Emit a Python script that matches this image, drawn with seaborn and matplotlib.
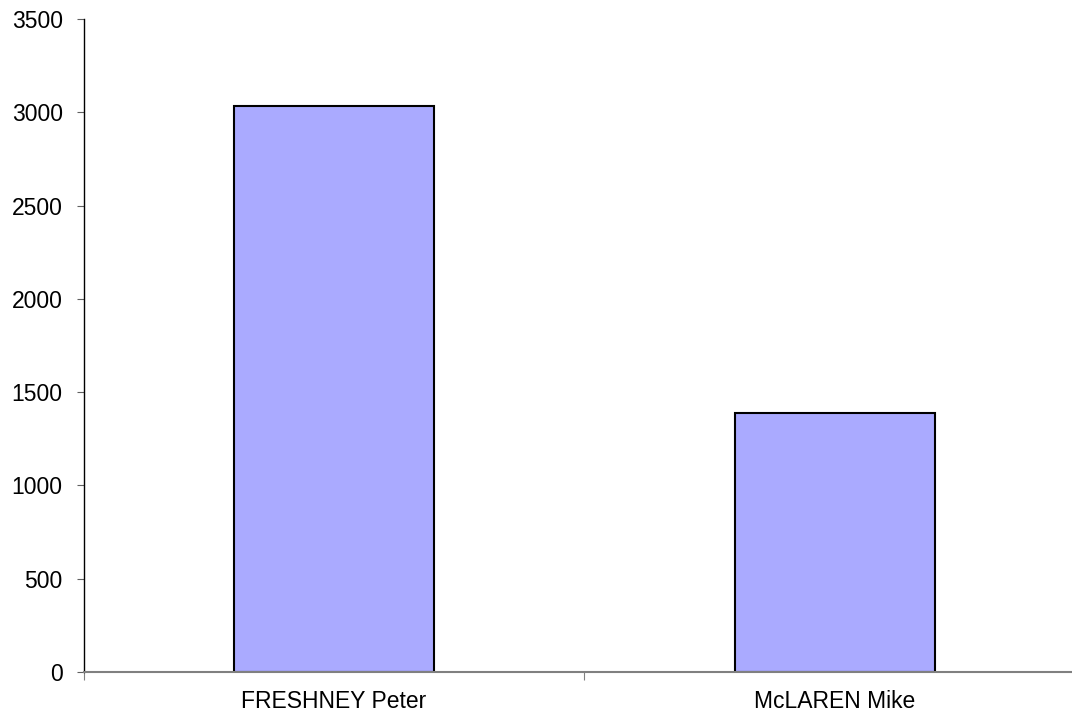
import matplotlib
matplotlib.use('Agg')
import matplotlib.pyplot as plt
import seaborn as sns
import pandas as pd

names = ['FRESHNEY Peter', 'McLAREN Mike']
values = [3035, 1387]
yticks = [0, 500, 1000, 1500, 2000, 2500, 3000, 3500]

sns.set_style('white')
plt.rcParams['font.family'] = ['Liberation Sans', 'DejaVu Sans']

df = pd.DataFrame({'name': names, 'value': values})

W, H = 1072, 715
fig = plt.figure(figsize=(W / 100, H / 100), dpi=100)
ax = fig.add_axes([83.5 / W, (H - 672) / H, (1085.5 - 83.5) / W, (672 - 19) / H])

sns.barplot(data=df, x='name', y='value', color='#AAAAFF', saturation=1,
            edgecolor='black', linewidth=1.5, width=0.4, ax=ax)

ax.set_xlim(-0.5, 1.5)
ax.set_ylim(0, 3500)
ax.set_yticks(yticks)
ax.set_yticklabels([str(v) for v in yticks], fontsize=16.5, color='black')
ax.set_xlabel('')
ax.set_ylabel('')

# category boundary ticks (major), labels on minor ticks at centres
ax.set_xticks([-0.5, 0.5, 1.5])
ax.set_xticklabels(['', '', ''])
ax.set_xticks([0, 1], minor=True)
ax.set_xticklabels(names, minor=True, fontsize=16.5, color='black')
ax.tick_params(axis='x', which='major', direction='out', length=6, width=0.8, color='#808080', bottom=True)
ax.tick_params(axis='x', which='minor', length=0, pad=13)
ax.tick_params(axis='y', direction='out', length=5, width=0.8, color='#606060', left=True, pad=10)

for s in ['top', 'right']:
    ax.spines[s].set_visible(False)
ax.spines['left'].set_color('black')
ax.spines['left'].set_linewidth(1)
ax.spines['bottom'].set_color('#808080')
ax.spines['bottom'].set_linewidth(1.5)

fig.savefig('out.png', dpi=100)
